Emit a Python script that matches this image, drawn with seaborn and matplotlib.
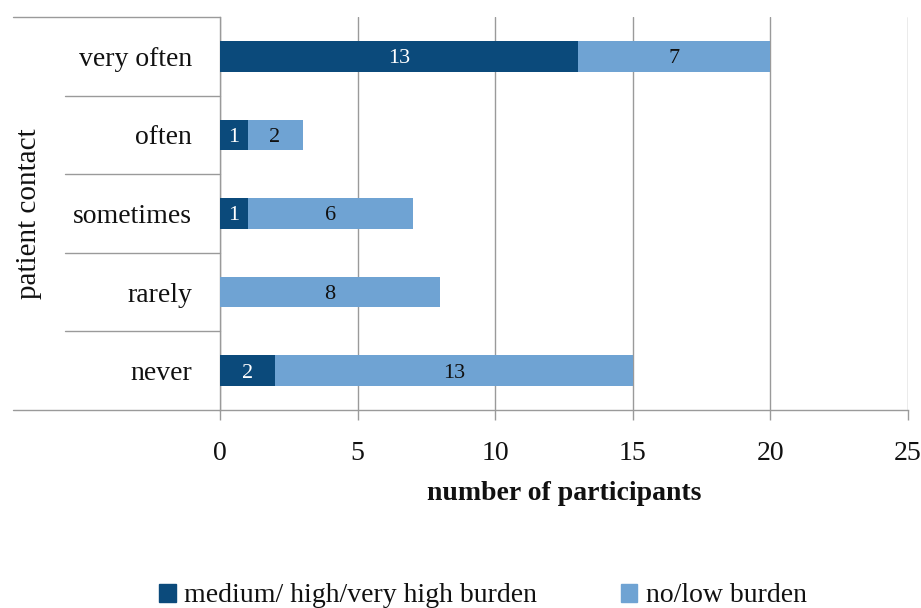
import matplotlib
matplotlib.use("Agg")
import matplotlib.pyplot as plt
import matplotlib.transforms as mtransforms
from matplotlib.patches import Rectangle
import seaborn as sns
import pandas as pd

categories = ["very often", "often", "sometimes", "rarely", "never"]
high_burden = [13, 1, 1, 0, 2]
low_burden = [7, 2, 6, 8, 13]
x_ticks = [0, 5, 10, 15, 20, 25]

series_names = ["medium/ high/very high burden", "no/low burden"]
dark_blue = "#0b4a7b"
light_blue = "#6fa3d3"
line_grey = "#9a9a9a"
text_color = "#111111"

sns.set_theme(style="white")
plt.rcParams["font.family"] = ["Liberation Serif", "DejaVu Serif"]

df = pd.DataFrame({
    "contact": categories,
    "high": high_burden,
    "low": low_burden,
})
df["total"] = df["high"] + df["low"]

fig = plt.figure(figsize=(9.21, 6.08), dpi=100)
ax = fig.add_axes([220 / 921, 1 - 410 / 608, 688 / 921, 393 / 608])

# stacked bars: full total in light blue, high-burden part on top in dark blue
sns.barplot(data=df, y="contact", x="total", color=light_blue, width=0.39,
            saturation=1, orient="h", ax=ax, zorder=3, linewidth=0)
sns.barplot(data=df, y="contact", x="high", color=dark_blue, width=0.39,
            saturation=1, orient="h", ax=ax, zorder=4, linewidth=0)

for i, (h, l) in enumerate(zip(high_burden, low_burden)):
    if h > 0:
        ax.text(h / 2, i + 0.03, str(h), ha="center", va="center", color="white",
                fontsize=16, zorder=5)
    if l > 0:
        ax.text(h + l / 2, i + 0.03, str(l), ha="center", va="center", color=text_color,
                fontsize=16, zorder=5)

ax.set_xlim(0, 25)
ax.set_ylim(len(categories) - 0.5, -0.5)
ax.set_xticks(x_ticks)
ax.set_xticklabels([str(t) for t in x_ticks], fontsize=20)
ax.tick_params(axis="x", which="major", direction="out", length=7, width=1,
               color=line_grey, pad=15, bottom=True)
ax.tick_params(axis="y", length=0, pad=20, labelsize=20)
for lbl in ax.get_yticklabels() + ax.get_xticklabels():
    lbl.set_color(text_color)

ax.xaxis.grid(True, color=line_grey, linewidth=1)
ax.set_axisbelow(True)
for side in ["top", "right"]:
    ax.spines[side].set_visible(False)
for side in ["left", "bottom"]:
    ax.spines[side].set_color(line_grey)
    ax.spines[side].set_linewidth(1)

ax.set_xlabel("number of participants", fontsize=20, fontweight="bold",
              color=text_color)
ax.xaxis.set_label_coords(0.5, -0.18)
ax.set_ylabel("patient contact", fontsize=21, color=text_color)
ax.yaxis.set_label_coords(-0.259, 0.5)

# category separator lines in the label column
trans = mtransforms.blended_transform_factory(ax.transAxes, ax.transData)
bounds = [b - 0.5 for b in range(len(categories) + 1)]
for k, b in enumerate(bounds):
    x0 = -0.301 if k in (0, len(bounds) - 1) else -0.225
    ax.plot([x0, 0], [b, b], color=line_grey, linewidth=1, transform=trans,
            clip_on=False, zorder=1)

handles = [Rectangle((0, 0), 1, 1, color=dark_blue),
           Rectangle((0, 0), 1, 1, color=light_blue)]
fig.legend(handles, series_names, loc="center", bbox_to_anchor=(483 / 921, 1 - 596 / 608),
           ncol=2, frameon=False, fontsize=20, handlelength=0.6, handleheight=0.6,
           handletextpad=0.3, columnspacing=3.0, labelcolor=text_color)

fig.savefig("out.png", dpi=100, facecolor="white")
